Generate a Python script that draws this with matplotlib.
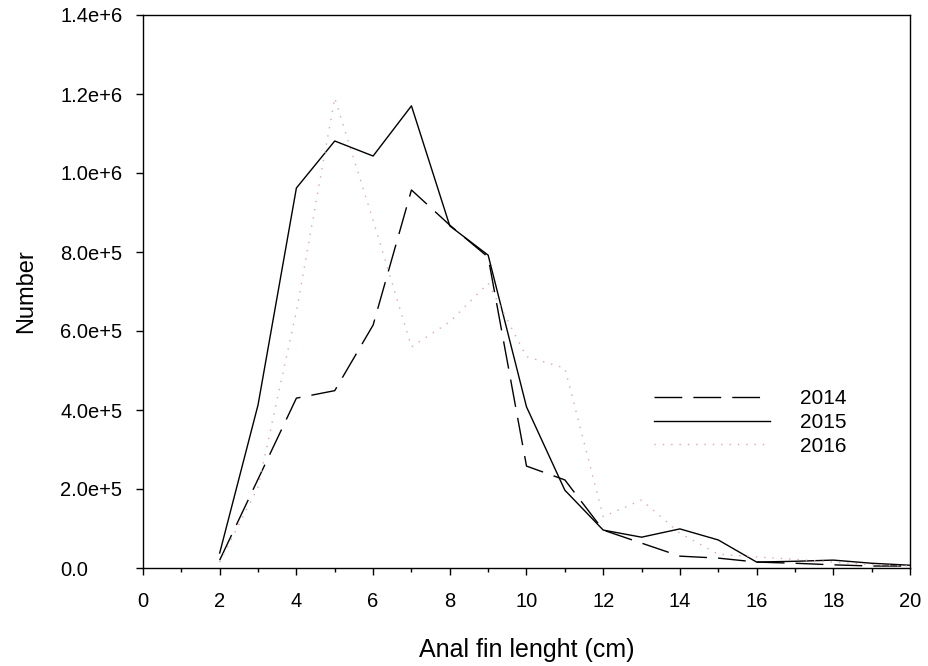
import matplotlib
matplotlib.use("Agg")
import matplotlib.pyplot as plt
from matplotlib.ticker import MultipleLocator, FuncFormatter

plt.rcParams['font.family'] = ['Liberation Sans', 'DejaVu Sans']

lengths = list(range(2, 21))
y2014 = [20e3, 225e3, 430e3, 449e3, 615e3, 957e3, 868e3, 787e3, 258e3, 223e3,
         96e3, 63e3, 30e3, 25e3, 15e3, 12e3, 8e3, 5e3, 5e3]
y2015 = [38e3, 413e3, 962e3, 1081e3, 1043e3, 1170e3, 866e3, 792e3, 408e3, 197e3,
         96e3, 78e3, 99e3, 71e3, 15e3, 17e3, 20e3, 12e3, 7e3]
y2016 = [15e3, 205e3, 650e3, 1190e3, 880e3, 560e3, 623e3, 721e3, 535e3, 506e3,
         130e3, 172e3, 88e3, 35e3, 28e3, 22e3, 15e3, 8e3, 5e3]
series_labels = ['2014', '2015', '2016']
x_ticks = list(range(0, 21, 2))
y_ticks = [0, 2e5, 4e5, 6e5, 8e5, 1.0e6, 1.2e6, 1.4e6]

fig = plt.figure(figsize=(9.29, 6.66), dpi=100)
ax = fig.add_axes([143/929, 98/666, 767/929, 553/666])

ax.plot(lengths, y2014, color='black', lw=1.0, dashes=(20, 8), label=series_labels[0])
ax.plot(lengths, y2015, color='black', lw=1.0, label=series_labels[1])
ax.plot(lengths, y2016, color='#e3a3b3', lw=1.0, dashes=(1, 5), label=series_labels[2])

ax.set_xlim(0, 20)
ax.set_ylim(0, 1.4e6)
ax.set_xticks(x_ticks)
ax.xaxis.set_minor_locator(MultipleLocator(1))
ax.set_yticks(y_ticks)

def fmt(v, pos):
    if v == 0:
        return '0.0'
    exp = 0
    m = v
    while abs(m) >= 10:
        m /= 10
        exp += 1
    return f'{m:.1f}e+{exp}'

ax.yaxis.set_major_formatter(FuncFormatter(fmt))
ax.tick_params(axis='both', which='major', direction='out', length=5, width=1, labelsize=14.5)
ax.tick_params(axis='y', which='major', pad=54.5)
ax.tick_params(axis='x', which='major', pad=12.5)
ax.tick_params(axis='x', which='minor', direction='out', length=3, width=1)
for lbl in ax.get_yticklabels():
    lbl.set_horizontalalignment('left')
for s in ax.spines.values():
    s.set_linewidth(1.0)

ax.set_xlabel('Anal fin lenght (cm)', fontsize=18, labelpad=19)
ax.set_ylabel('Number', fontsize=17, labelpad=17)

leg = ax.legend(loc='upper left', bbox_to_anchor=(0.666, 0.323), frameon=False,
                fontsize=15, handlelength=5.6, handletextpad=1.4, labelspacing=0.22,
                borderpad=0, borderaxespad=0)

fig.savefig('out.png', dpi=100)
